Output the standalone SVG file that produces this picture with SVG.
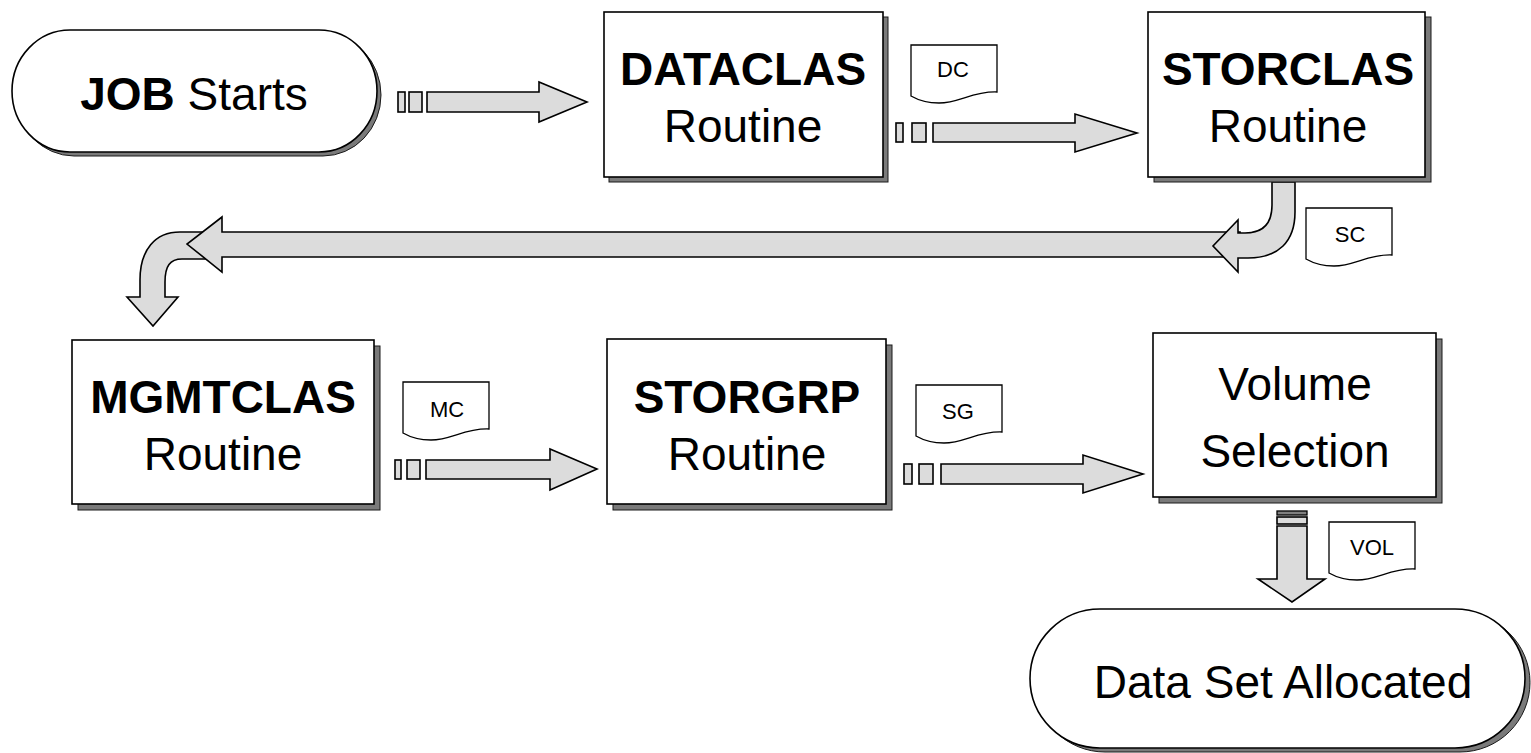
<svg xmlns="http://www.w3.org/2000/svg" width="1531" height="753" viewBox="0 0 1531 753">
<style>
.shadow{fill:#7a7a7a;stroke:#1a1a1a;stroke-width:1}
.node{fill:#ffffff;stroke:#000;stroke-width:1.6}
.arrow{fill:#dcdcdc;stroke:#000;stroke-width:1.6;stroke-linejoin:miter}
.doc{fill:#ffffff;stroke:#000;stroke-width:1.3}
.big{font-family:"Liberation Sans",Arial,sans-serif;font-size:46px;fill:#000;text-anchor:middle}
.b{font-weight:bold}
.small{font-family:"Liberation Sans",Arial,sans-serif;font-size:22px;fill:#000;text-anchor:middle}
</style>
<defs>
<path id="docshape" d="M0,0 H86 V47 C62,46 48,58 28,58 C16,58 7,55 0,51 Z"/>
</defs>
<rect width="1531" height="753" fill="#ffffff"/>

<g id="connectors">
  <!-- JOB -> DATACLAS -->
  <rect class="arrow" x="398" y="92" width="7" height="20"/>
  <rect class="arrow" x="409" y="92" width="13" height="20"/>
  <path class="arrow" d="M427,92 H539 V82 L587,102 L539,122 V112 H427 Z"/>
  <!-- DATACLAS -> STORCLAS -->
  <rect class="arrow" x="896" y="123" width="7" height="19"/>
  <rect class="arrow" x="912" y="123" width="14" height="19"/>
  <path class="arrow" d="M933,123 H1075 V114 L1137,133 L1075,152 V142 H933 Z"/>
  <!-- STORCLAS -> MGMTCLAS (three pieces) -->
  <path class="arrow" d="M205,232 H180 C155,232 140,250 140,280 V297 H127 L153,326 L178,297 H165 V282 C165,266 170,259 182,259 H205 Z"/>
  <path class="arrow" d="M1240,232 H222 V217 L187,244 L222,272 V257 H1240 Z"/>
  <path class="arrow" d="M1272,182 V205 C1272,225 1262,233 1245,233 H1238 V220 L1213,246 L1238,272 V258 H1248 C1278,258 1295,242 1295,212 V182 Z"/>
  <!-- MGMTCLAS -> STORGRP -->
  <rect class="arrow" x="395" y="460" width="6" height="19"/>
  <rect class="arrow" x="407" y="460" width="13" height="19"/>
  <path class="arrow" d="M426,460 H550 V449 L597,469 L550,490 V479 H426 Z"/>
  <!-- STORGRP -> Volume Selection -->
  <rect class="arrow" x="904" y="464" width="8" height="20"/>
  <rect class="arrow" x="919" y="464" width="14" height="20"/>
  <path class="arrow" d="M941,464 H1083 V455 L1143,474 L1083,493 V484 H941 Z"/>
  <!-- Volume Selection -> Data Set Allocated -->
  <rect x="1277" y="511" width="30" height="4" fill="#808080" stroke="#000" stroke-width="1.3"/>
  <rect class="arrow" x="1277" y="517" width="30" height="7"/>
  <path class="arrow" d="M1277,526 H1307 V579 H1325 L1292,602 L1258,579 H1277 Z"/>
</g>

<g id="job-starts">
  <rect class="shadow" x="16" y="34" width="365" height="122" rx="58" ry="61"/>
  <rect class="node" x="12" y="30" width="365" height="122" rx="58" ry="61"/>
  <text class="big" x="194" y="110"><tspan class="b">JOB</tspan> Starts</text>
</g>

<g id="dataclas">
  <rect class="shadow" x="609" y="17" width="279" height="165"/>
  <rect class="node" x="604" y="12" width="279" height="165"/>
  <text class="big b" x="743" y="85">DATACLAS</text>
  <text class="big" x="743" y="142">Routine</text>
</g>

<g id="storclas">
  <rect class="shadow" x="1154" y="17" width="277" height="165"/>
  <rect class="node" x="1148" y="12" width="277" height="165"/>
  <text class="big b" x="1288" y="85">STORCLAS</text>
  <text class="big" x="1288" y="142">Routine</text>
</g>

<g id="mgmtclas">
  <rect class="shadow" x="78" y="346" width="302" height="164"/>
  <rect class="node" x="72" y="340" width="302" height="164"/>
  <text class="big b" x="223" y="413">MGMTCLAS</text>
  <text class="big" x="223" y="470">Routine</text>
</g>

<g id="storgrp">
  <rect class="shadow" x="613" y="345" width="279" height="165"/>
  <rect class="node" x="607" y="339" width="279" height="165"/>
  <text class="big b" x="747" y="413">STORGRP</text>
  <text class="big" x="747" y="470">Routine</text>
</g>

<g id="volume-selection">
  <rect class="shadow" x="1159" y="339" width="283" height="164"/>
  <rect class="node" x="1153" y="333" width="283" height="164"/>
  <text class="big" x="1295" y="400">Volume</text>
  <text class="big" x="1295" y="467">Selection</text>
</g>

<g id="data-set-allocated">
  <rect class="shadow" x="1035" y="613" width="495" height="139" rx="70" ry="69.5"/>
  <rect class="node" x="1030" y="609" width="495" height="139" rx="70" ry="69.5"/>
  <text class="big" x="1283" y="698">Data Set Allocated</text>
</g>

<g id="doc-dc">
  <use href="#docshape" class="doc" transform="translate(911,45)"/>
  <text class="small" x="953" y="77">DC</text>
</g>
<g id="doc-sc">
  <use href="#docshape" class="doc" transform="translate(1306,208)"/>
  <text class="small" x="1350" y="242">SC</text>
</g>
<g id="doc-mc">
  <use href="#docshape" class="doc" transform="translate(403,382)"/>
  <text class="small" x="447" y="417">MC</text>
</g>
<g id="doc-sg">
  <use href="#docshape" class="doc" transform="translate(916,385)"/>
  <text class="small" x="958" y="419">SG</text>
</g>
<g id="doc-vol">
  <use href="#docshape" class="doc" transform="translate(1329,522)"/>
  <text class="small" x="1372" y="555">VOL</text>
</g>
</svg>
